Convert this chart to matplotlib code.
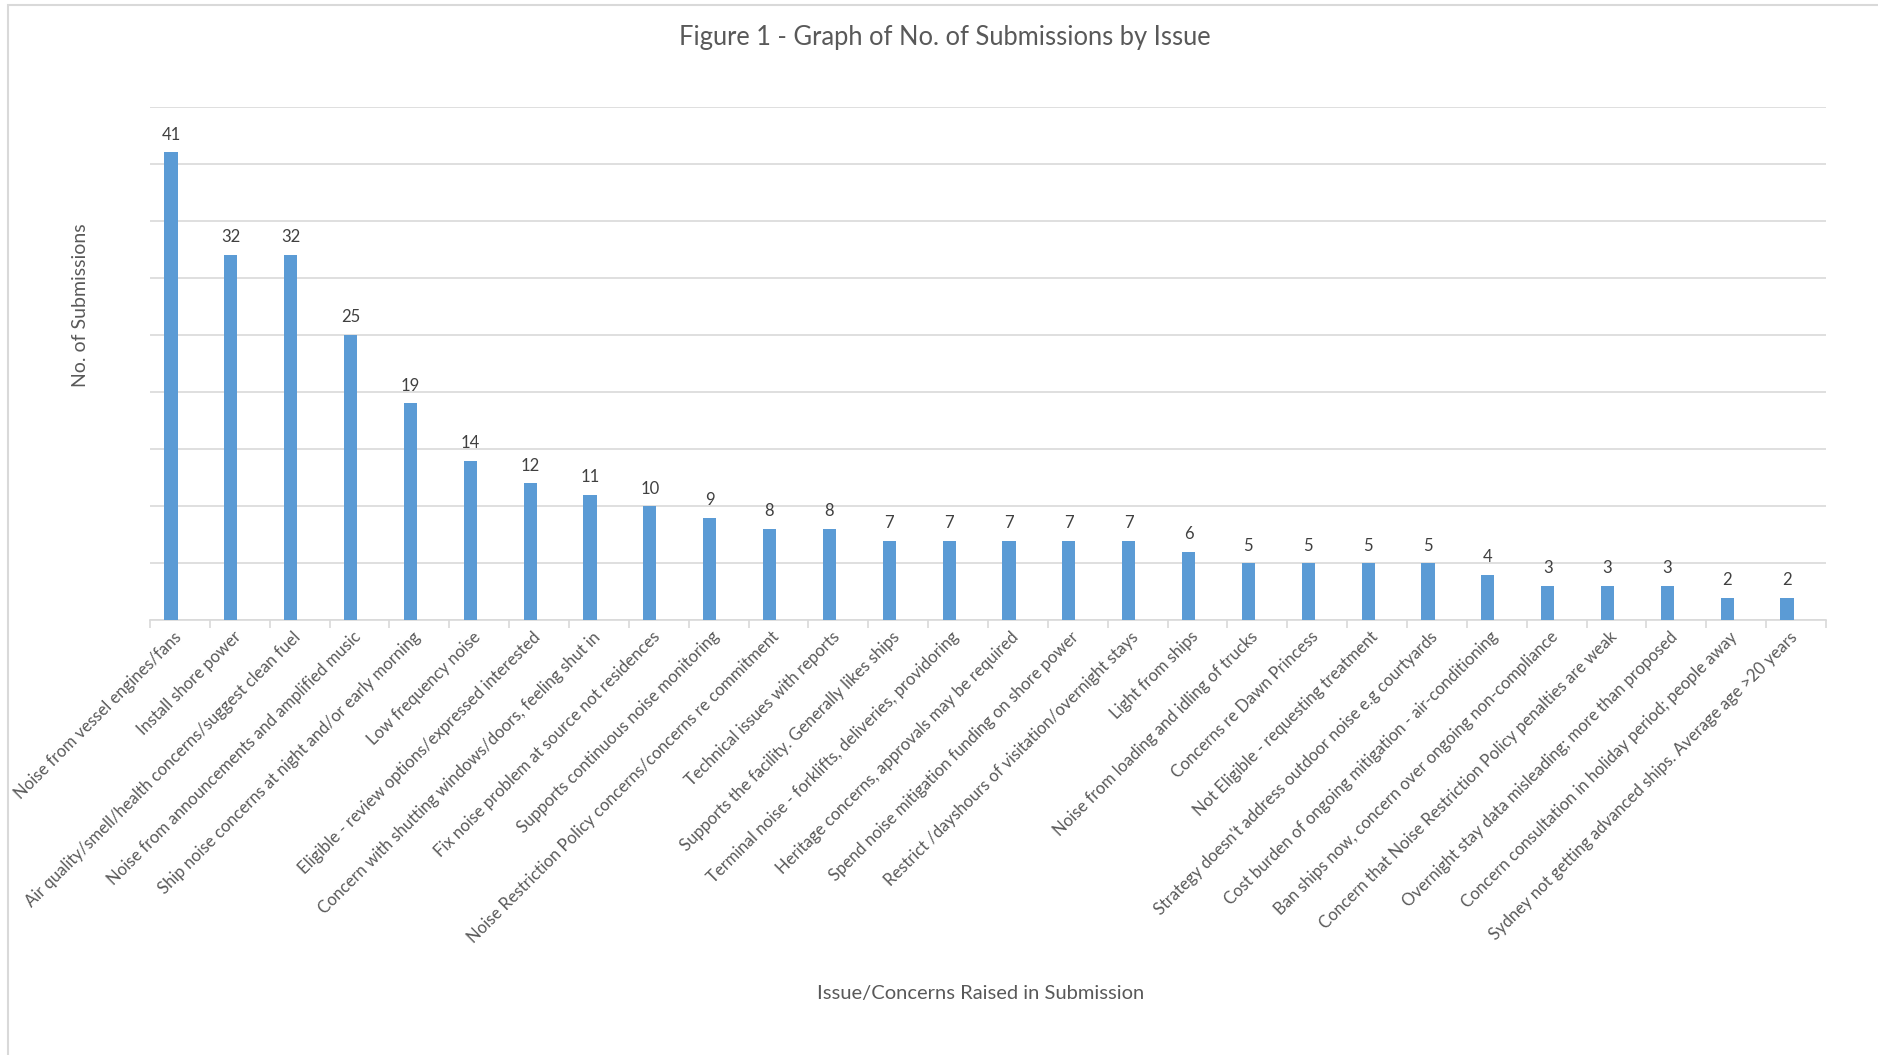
import matplotlib.pyplot as plt
import matplotlib.patches as mpatches
import numpy as np

issues = [
    "Noise from vessel engines/fans",
    "Install shore power",
    "Air quality/smell/health concerns/suggest clean fuel",
    "Noise from announcements and amplified music",
    "Ship noise concerns at night and/or early morning",
    "Low frequency noise",
    "Eligible - review options/expressed interested",
    "Concern with shutting windows/doors, feeling shut in",
    "Fix noise problem at source not residences",
    "Supports continuous noise monitoring",
    "Noise Restriction Policy concerns/concerns re commitment",
    "Technical issues with reports",
    "Supports the facility. Generally likes ships",
    "Terminal noise - forklifts, deliveries, providoring",
    "Heritage concerns, approvals may be required",
    "Spend noise mitigation funding on shore power",
    "Restrict /dayshours of visitation/overnight stays",
    "Light from ships",
    "Noise from loading and idling of trucks",
    "Concerns re Dawn Princess",
    "Not Eligible - requesting treatment",
    "Strategy doesn't address outdoor noise e.g courtyards",
    "Cost burden of ongoing mitigation - air-conditioning",
    "Ban ships now, concern over ongoing non-compliance",
    "Concern that Noise Restriction Policy penalties are weak",
    "Overnight stay data misleading; more than proposed",
    "Concern consultation in holiday period; people away",
    "Sydney not getting advanced ships. Average age >20 years",
]
submissions = [41, 32, 32, 25, 19, 14, 12, 11, 10, 9, 8, 8, 7, 7, 7, 7, 7,
               6, 5, 5, 5, 5, 4, 3, 3, 3, 2, 2]

plt.rcParams['font.family'] = ['Lato', 'DejaVu Sans']
text_col = '#595959'
grid_col = '#D9D9D9'

fig = plt.figure(figsize=(18.78, 10.55), dpi=100)
ax = fig.add_axes([0.0799, 0.4119, 0.8924, 0.4871])

x = np.arange(len(issues))
# bars sit a little left of the category centre
bars = ax.bar(x - 0.15, submissions, width=0.22, color='#5B9BD5', zorder=3)

for b, v in zip(bars, submissions):
    ax.annotate(str(v), (b.get_x() + b.get_width() / 2, v),
                xytext=(0, 7), textcoords='offset points',
                ha='center', va='bottom', fontsize=12, color='#404040')

ax.set_xlim(-0.5, len(issues) - 0.5)
ax.set_ylim(0, 45)
ax.set_yticks(np.arange(0, 46, 5))
ax.yaxis.grid(True, color=grid_col, linewidth=1.2, zorder=0)
ax.tick_params(axis='y', left=False, labelleft=False)

# category labels, tick marks between categories
ax.set_xticks(x - 0.12)
ax.set_xticklabels(issues, rotation=45, ha='right', rotation_mode='anchor',
                   fontsize=12, color=text_col)
ax.tick_params(axis='x', which='major', length=0, pad=6)
ax.set_xticks(np.arange(-0.5, len(issues), 1), minor=True)
ax.tick_params(axis='x', which='minor', length=6, color=grid_col, width=1.2)

for side in ['top', 'right', 'left']:
    ax.spines[side].set_visible(False)
ax.spines['bottom'].set_color(grid_col)
ax.spines['bottom'].set_linewidth(1.2)

fig.text(0.503, 0.964, "Figure 1 - Graph of No. of Submissions by Issue",
         ha='center', va='center', fontsize=18.4, color=text_col)
fig.text(0.043, 0.711, "No. of Submissions", rotation=90,
         ha='center', va='center', fontsize=14, color=text_col)
fig.text(0.522, 0.058, "Issue/Concerns Raised in Submission",
         ha='center', va='center', fontsize=14.5, color=text_col)

# thin chart-area border
fig.patches.append(mpatches.Rectangle((8 / 1878, -0.1), 1.2, 1.1 - 5 / 1055,
                                      transform=fig.transFigure, fill=False,
                                      edgecolor=grid_col, linewidth=1.5))

fig.savefig('out.png', dpi=100)
